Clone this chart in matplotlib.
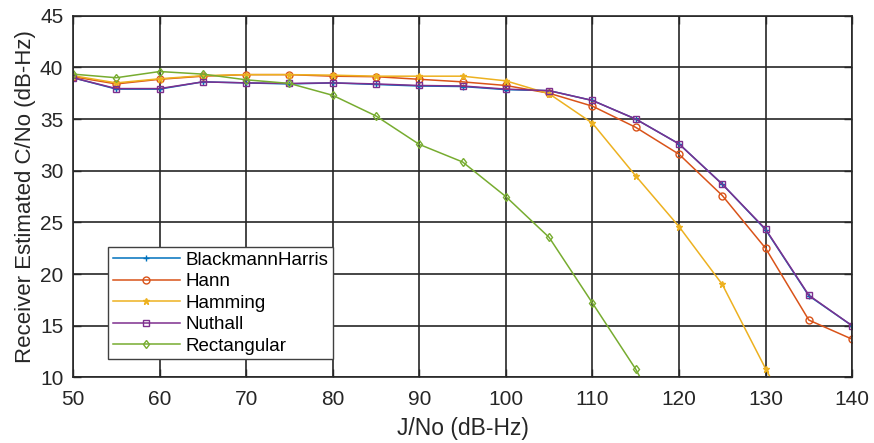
import matplotlib
matplotlib.use("Agg")
import matplotlib.pyplot as plt
import numpy as np

plt.rcParams['font.family'] = ['Liberation Sans', 'DejaVu Sans']

jno = [50, 55, 60, 65, 70, 75, 80, 85, 90, 95, 100, 105, 110, 115, 120, 125, 130, 135, 140]

blackmann = [39.0, 37.9, 37.9, 38.6, 38.5, 38.4, 38.5, 38.35, 38.2, 38.15, 37.85, 37.75, 36.8, 35.0, 32.6, 28.7, 24.3, 17.9, 15.0]
hann = [39.1, 38.4, 38.85, 39.15, 39.3, 39.3, 39.15, 39.1, 38.85, 38.6, 38.25, 37.5, 36.25, 34.2, 31.6, 27.6, 22.5, 15.55, 13.7]
hamming = [39.2, 38.5, 38.9, 39.2, 39.3, 39.3, 39.25, 39.15, 39.15, 39.15, 38.7, 37.45, 34.6, 29.5, 24.6, 19.0, 10.85, 3.0]
nuthall = [39.0, 37.95, 37.95, 38.6, 38.5, 38.45, 38.5, 38.4, 38.25, 38.2, 37.9, 37.75, 36.8, 35.0, 32.6, 28.7, 24.35, 17.95, 15.0]
rectangular = [39.35, 39.0, 39.6, 39.35, 38.8, 38.45, 37.3, 35.3, 32.55, 30.85, 27.5, 23.55, 17.2, 10.8, 3.0]

series = [
    ("BlackmannHarris", blackmann, '#0072BD', '+', dict(markersize=5)),
    ("Hann", hann, '#D95319', 'o', dict(markersize=5, markerfacecolor='none')),
    ("Hamming", hamming, '#EDB120', '*', dict(markersize=5)),
    ("Nuthall", nuthall, '#7E2F8E', 's', dict(markersize=4.5, markerfacecolor='none')),
    ("Rectangular", rectangular, '#77AC30', 'd', dict(markersize=4.5, markerfacecolor='none')),
]

fig = plt.figure(figsize=(8.74, 4.43), dpi=100)
ax = fig.add_axes([0.0835, 0.148, 0.8915, 0.8165])

for name, vals, color, marker, kw in series:
    ax.plot(jno[:len(vals)], vals, color=color, marker=marker, linewidth=1.1,
            markeredgewidth=1.0, label=name, **kw)

ax.set_xlim(50, 140)
ax.set_ylim(10, 45)
ax.set_xticks(np.arange(50, 141, 10))
ax.set_yticks(np.arange(10, 46, 5))
ax.grid(True, color='#262626', linewidth=1.2)
ax.set_axisbelow(True)
ax.tick_params(direction='in', length=6, width=1, labelsize=15, colors='#262626',
               top=True, right=True)
ax.tick_params(axis='x', pad=9)
ax.tick_params(axis='y', pad=7)
for s in ax.spines.values():
    s.set_color('#262626')
    s.set_linewidth(1.2)

ax.set_xlabel('J/No (dB-Hz)', fontsize=16.5, color='#262626', labelpad=6)
ax.set_ylabel('Receiver Estimated C/No (dB-Hz)', fontsize=16, color='#262626', labelpad=3)

leg = ax.legend(loc='lower left', bbox_to_anchor=(0.045, 0.05), fontsize=13.5,
                frameon=True, fancybox=False, edgecolor='#404040', framealpha=1,
                handlelength=3.6, handletextpad=0.3, labelspacing=0.23,
                borderpad=0.25, borderaxespad=0)
leg.get_frame().set_linewidth(1.0)

fig.savefig('out.png', dpi=100)
